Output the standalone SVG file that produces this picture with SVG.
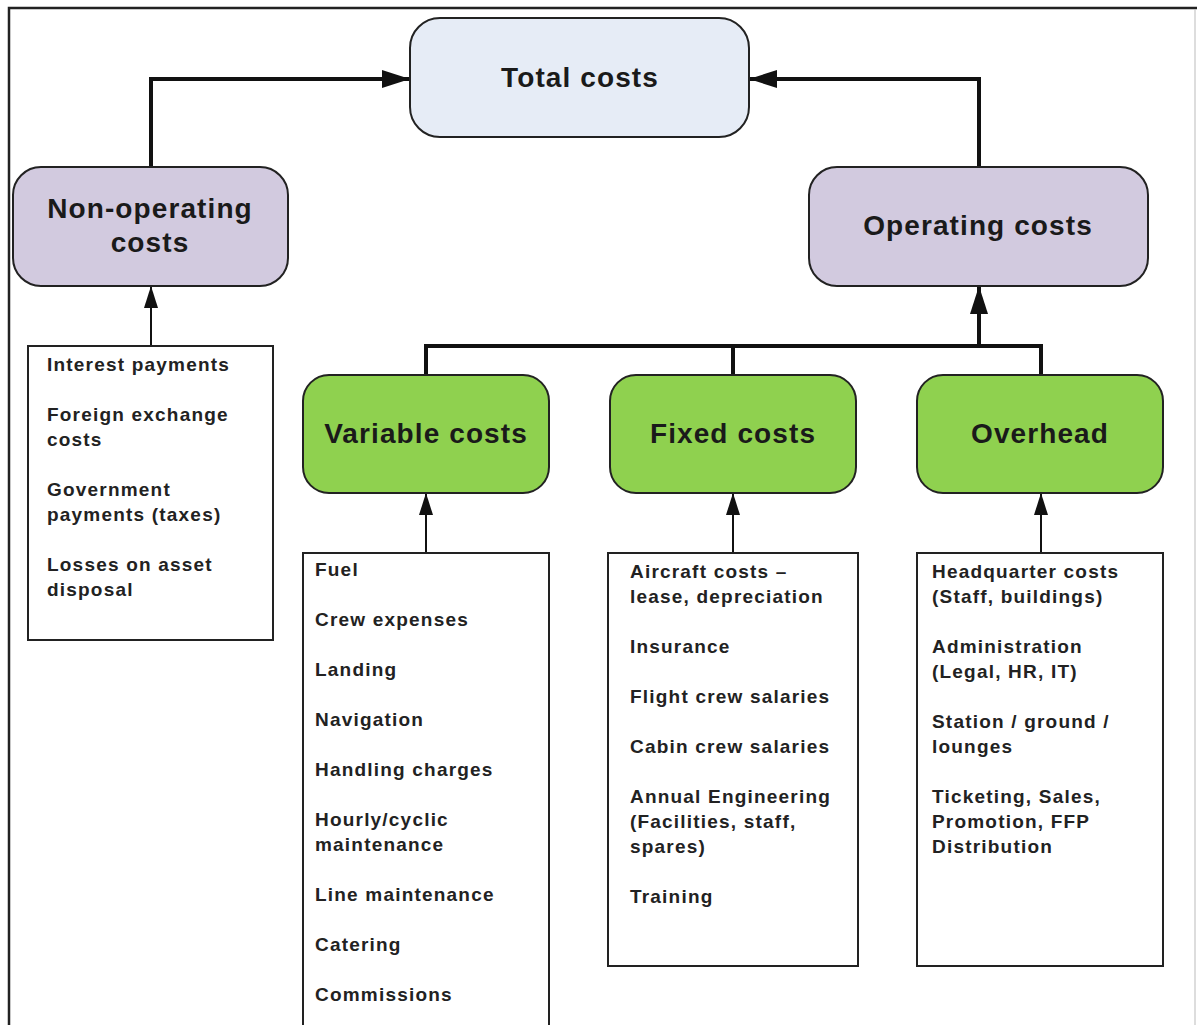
<svg xmlns="http://www.w3.org/2000/svg" width="1197" height="1025" viewBox="0 0 1197 1025">
<style>
.title{font-family:"Liberation Sans",Arial,sans-serif;font-weight:bold;font-size:28px;letter-spacing:1.1px;fill:#1a1a1a;text-anchor:middle}
.item{font-family:"Liberation Sans",Arial,sans-serif;font-weight:bold;font-size:19px;letter-spacing:1.2px;fill:#222}
.blue{fill:#e6ecf6;stroke:#222;stroke-width:2}
.lav{fill:#d2cadf;stroke:#222;stroke-width:2}
.green{fill:#8fd14f;stroke:#222;stroke-width:2}
.list{fill:#fff;stroke:#222;stroke-width:2}
.thick{fill:none;stroke:#111;stroke-width:4}
.thin{fill:none;stroke:#111;stroke-width:2}
</style>
<defs>
<marker id="ah" markerUnits="userSpaceOnUse" markerWidth="28" markerHeight="18" refX="28" refY="9" orient="auto"><path d="M0,0 L28,9 L0,18 z" fill="#111"/></marker>
<marker id="as" markerUnits="userSpaceOnUse" markerWidth="22" markerHeight="14" refX="22" refY="7" orient="auto"><path d="M0,0 L22,7 L0,14 z" fill="#111"/></marker>
</defs>
<rect width="1197" height="1025" fill="#fff"/>
<g id="frame" fill="none">
<path d="M9,1025 V8 H1197" stroke="#222" stroke-width="2.5"/>
<path d="M1195,9 V1025" stroke="#bbb" stroke-width="1"/>
</g>
<g id="connectors">
<path class="thick" d="M151,167 V79 H410" marker-end="url(#ah)"/>
<path class="thick" d="M979,167 V79 H749" marker-end="url(#ah)"/>
<path class="thick" d="M426,375 V346 H1041 V375"/>
<path class="thick" d="M733,346 V375"/>
<path class="thick" d="M979,346 V286" marker-end="url(#ah)"/>
<path class="thin" d="M151,346 V286" marker-end="url(#as)"/>
<path class="thin" d="M426,553 V493" marker-end="url(#as)"/>
<path class="thin" d="M733,553 V493" marker-end="url(#as)"/>
<path class="thin" d="M1041,553 V493" marker-end="url(#as)"/>
</g>
<g id="total">
<rect class="blue" x="410" y="18" width="339" height="119" rx="30"/>
<text class="title" x="580" y="87">Total costs</text>
</g>
<g id="nonop">
<rect class="lav" x="13" y="167" width="275" height="119" rx="28"/>
<text class="title" x="150" y="218">Non-operating</text>
<text class="title" x="150" y="252">costs</text>
</g>
<g id="operating">
<rect class="lav" x="809" y="167" width="339" height="119" rx="28"/>
<text class="title" x="978" y="235">Operating costs</text>
</g>
<g id="variable">
<rect class="green" x="303" y="375" width="246" height="118" rx="26"/>
<text class="title" x="426" y="443">Variable costs</text>
</g>
<g id="fixed">
<rect class="green" x="610" y="375" width="246" height="118" rx="26"/>
<text class="title" x="733" y="443">Fixed costs</text>
</g>
<g id="overhead">
<rect class="green" x="917" y="375" width="246" height="118" rx="26"/>
<text class="title" x="1040" y="443">Overhead</text>
</g>
<g id="nonop-list">
<rect class="list" x="28" y="346" width="245" height="294"/>
<text class="item" x="47" y="371">Interest payments</text>
<text class="item" x="47" y="421">Foreign exchange</text>
<text class="item" x="47" y="446">costs</text>
<text class="item" x="47" y="496">Government</text>
<text class="item" x="47" y="521">payments (taxes)</text>
<text class="item" x="47" y="571">Losses on asset</text>
<text class="item" x="47" y="596">disposal</text>
</g>
<g id="variable-list">
<rect class="list" x="303" y="553" width="246" height="500"/>
<text class="item" x="315" y="576">Fuel</text>
<text class="item" x="315" y="626">Crew expenses</text>
<text class="item" x="315" y="676">Landing</text>
<text class="item" x="315" y="726">Navigation</text>
<text class="item" x="315" y="776">Handling charges</text>
<text class="item" x="315" y="826">Hourly/cyclic</text>
<text class="item" x="315" y="851">maintenance</text>
<text class="item" x="315" y="901">Line maintenance</text>
<text class="item" x="315" y="951">Catering</text>
<text class="item" x="315" y="1001">Commissions</text>
</g>
<g id="fixed-list">
<rect class="list" x="608" y="553" width="250" height="413"/>
<text class="item" x="630" y="578">Aircraft costs –</text>
<text class="item" x="630" y="603">lease, depreciation</text>
<text class="item" x="630" y="653">Insurance</text>
<text class="item" x="630" y="703">Flight crew salaries</text>
<text class="item" x="630" y="753">Cabin crew salaries</text>
<text class="item" x="630" y="803">Annual Engineering</text>
<text class="item" x="630" y="828">(Facilities, staff,</text>
<text class="item" x="630" y="853">spares)</text>
<text class="item" x="630" y="903">Training</text>
</g>
<g id="overhead-list">
<rect class="list" x="917" y="553" width="246" height="413"/>
<text class="item" x="932" y="578">Headquarter costs</text>
<text class="item" x="932" y="603">(Staff, buildings)</text>
<text class="item" x="932" y="653">Administration</text>
<text class="item" x="932" y="678">(Legal, HR, IT)</text>
<text class="item" x="932" y="728">Station / ground /</text>
<text class="item" x="932" y="753">lounges</text>
<text class="item" x="932" y="803">Ticketing, Sales,</text>
<text class="item" x="932" y="828">Promotion, FFP</text>
<text class="item" x="932" y="853">Distribution</text>
</g>
</svg>
